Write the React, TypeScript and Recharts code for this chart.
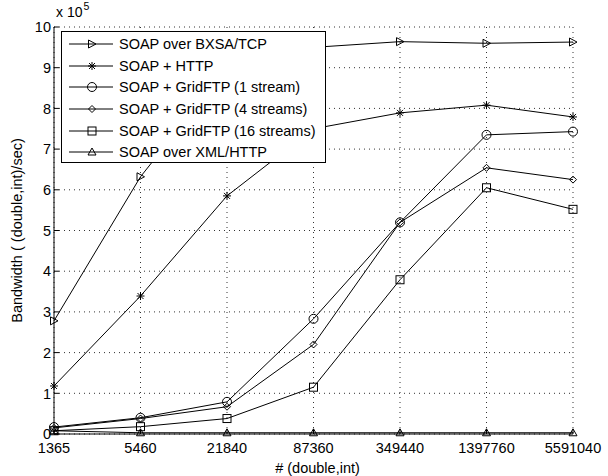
import React from 'react';
import { LineChart, Line, XAxis, YAxis, CartesianGrid, Legend } from 'recharts';

// x categories (number of (double,int) pairs)
const sizes = ['1365', '5460', '21840', '87360', '349440', '1397760', '5591040'];
const yTicks = [0, 1, 2, 3, 4, 5, 6, 7, 8, 9, 10];

// bandwidth, in units of 10^5
const bxsaTcp = [2.78, 6.32, 9.0, 9.5, 9.64, 9.6, 9.63];
const soapHttp = [1.18, 3.39, 5.85, 7.5, 7.89, 8.08, 7.79];
const gridFtp1 = [0.17, 0.4, 0.79, 2.83, 5.2, 7.35, 7.43];
const gridFtp4 = [0.15, 0.38, 0.67, 2.2, 5.2, 6.54, 6.25];
const gridFtp16 = [0.08, 0.18, 0.38, 1.15, 3.79, 6.05, 5.52];
const xmlHttp = [0.08, 0.03, 0.03, 0.03, 0.03, 0.03, 0.03];

const data = sizes.map((s, i) => ({
  idx: i,
  bxsa: bxsaTcp[i],
  http: soapHttp[i],
  g1: gridFtp1[i],
  g4: gridFtp4[i],
  g16: gridFtp16[i],
  xml: xmlHttp[i],
}));

const series = [
  { key: 'bxsa', name: 'SOAP over BXSA/TCP', marker: 'triRight' },
  { key: 'http', name: 'SOAP + HTTP', marker: 'star' },
  { key: 'g1', name: 'SOAP + GridFTP (1 stream)', marker: 'circle' },
  { key: 'g4', name: 'SOAP + GridFTP (4 streams)', marker: 'diamond' },
  { key: 'g16', name: 'SOAP + GridFTP (16 streams)', marker: 'square' },
  { key: 'xml', name: 'SOAP over XML/HTTP', marker: 'triUp' },
];

const FONT = '"Liberation Sans", Arial, sans-serif';

const Marker = ({ type, cx, cy }: { type: string, cx: number, cy: number }) => {
  const s = { stroke: '#000', strokeWidth: 1, fill: 'none' };
  switch (type) {
    case 'triRight':
      return <polygon points={`${cx - 3.5},${cy - 4} ${cx - 3.5},${cy + 4} ${cx + 4},${cy}`} {...s} />;
    case 'star':
      return (
        <g {...s}>
          <line x1={cx - 4} x2={cx + 4} y1={cy} y2={cy} />
          <line x1={cx} x2={cx} y1={cy - 4} y2={cy + 4} />
          <line x1={cx - 3} x2={cx + 3} y1={cy - 3} y2={cy + 3} />
          <line x1={cx - 3} x2={cx + 3} y1={cy + 3} y2={cy - 3} />
        </g>
      );
    case 'circle':
      return <circle cx={cx} cy={cy} r={4.5} {...s} />;
    case 'diamond':
      return <polygon points={`${cx},${cy - 3.5} ${cx + 3.5},${cy} ${cx},${cy + 3.5} ${cx - 3.5},${cy}`} {...s} />;
    case 'square':
      return <rect x={cx - 4} y={cy - 4} width={8} height={8} {...s} />;
    default:
      return <polygon points={`${cx - 4},${cy + 3} ${cx + 4},${cy + 3} ${cx},${cy - 4}`} {...s} />;
  }
};

const BottomTick = ({ x, y, payload }: any) => (
  <g>
    <line x1={x} x2={x} y1={y} y2={y - 5} stroke="#000" />
    <text x={x} y={y + 19} textAnchor="middle" fontSize={14.5} fontFamily={FONT} fill="#000">
      {sizes[payload.value]}
    </text>
  </g>
);

const TopTick = ({ x, y }: any) => <line x1={x} x2={x} y1={y} y2={y + 5} stroke="#000" />;

const LeftTick = ({ x, y, payload }: any) => (
  <g>
    <line x1={x} x2={x + 5} y1={y} y2={y} stroke="#000" />
    <text x={x - 3} y={y} dy="0.36em" textAnchor="end" fontSize={14.5} fontFamily={FONT} fill="#000">
      {payload.value}
    </text>
  </g>
);

const RightTick = ({ x, y }: any) => <line x1={x} x2={x - 5} y1={y} y2={y} stroke="#000" />;

const YLabel = ({ viewBox }: any) => {
  const cy = viewBox.y + viewBox.height / 2;
  return (
    <text x={17} y={cy} transform={`rotate(-90 17 ${cy})`} textAnchor="middle" dy="0.35em"
      fontSize={14.5} fontFamily={FONT} fill="#000">
      Bandwidth ( (double,int)/sec)
    </text>
  );
};

const LegendBox = () => (
  <div style={{
    width: 265, height: 132, boxSizing: 'border-box', border: '1px solid #000', background: '#fff',
    paddingTop: 1, fontFamily: FONT, fontSize: 14.5, color: '#000',
  }}>
    {series.map((s) => (
      <div key={s.key} style={{ height: 21.7, display: 'flex', alignItems: 'center' }}>
        <svg width={57} height={20} style={{ flex: 'none' }}>
          <line x1={7} x2={51} y1={10} y2={10} stroke="#000" />
          <Marker type={s.marker} cx={30} cy={10} />
        </svg>
        <span style={{ whiteSpace: 'nowrap' }}>{s.name}</span>
      </div>
    ))}
  </div>
);

export default function App() {
  return (
    <div style={{ position: 'absolute', left: 0, top: 0, width: 608, height: 476, background: '#fff' }}>
      <LineChart width={608} height={476} data={data} margin={{ top: 27, right: 35, bottom: 0, left: 0 }}>
        <CartesianGrid stroke="#333" strokeDasharray="1 4" />
        <XAxis dataKey="idx" type="number" domain={[0, 6]} ticks={[0, 1, 2, 3, 4, 5, 6]} interval={0}
          height={42} tickSize={0} tickMargin={0} tickLine={false} axisLine={{ stroke: '#000' }}
          tick={<BottomTick />}
          label={{ value: '# (double,int)', position: 'insideBottom', offset: 3, dx: 4, fontSize: 14.5, fontFamily: FONT, fill: '#000' }} />
        <XAxis xAxisId="top" orientation="top" dataKey="idx" type="number" domain={[0, 6]}
          ticks={[0, 1, 2, 3, 4, 5, 6]} interval={0} height={0} tickSize={0} tickMargin={0}
          tickLine={false} axisLine={{ stroke: '#000' }} tick={<TopTick />} />
        <YAxis type="number" domain={[0, 10]} ticks={yTicks} interval={0} width={54} tickSize={0}
          tickMargin={0} tickLine={false} axisLine={{ stroke: '#000' }} tick={<LeftTick />}
          label={<YLabel />} />
        <YAxis yAxisId="right" orientation="right" type="number" domain={[0, 10]} ticks={yTicks}
          interval={0} width={0} tickSize={0} tickMargin={0} tickLine={false}
          axisLine={{ stroke: '#000' }} tick={<RightTick />} />
        {series.map((s) => (
          <Line key={s.key} dataKey={s.key} name={s.name} stroke="#000" strokeWidth={1}
            isAnimationActive={false}
            dot={(p: any) => <Marker key={`${s.key}-${p.index}`} type={s.marker} cx={p.cx} cy={p.cy} />}
            activeDot={false} />
        ))}
        <Legend layout="vertical" align="center" verticalAlign="middle" content={<LegendBox />}
          wrapperStyle={{ left: 61, top: 31, width: 265, height: 132 }} />
      </LineChart>
      <div style={{ position: 'absolute', left: 56, top: 4, fontFamily: FONT, fontSize: 14, color: '#000', whiteSpace: 'nowrap' }}>
        x 10<span style={{ fontSize: 10.5, position: 'relative', top: -7, left: 1 }}>5</span>
      </div>
    </div>
  );
}
